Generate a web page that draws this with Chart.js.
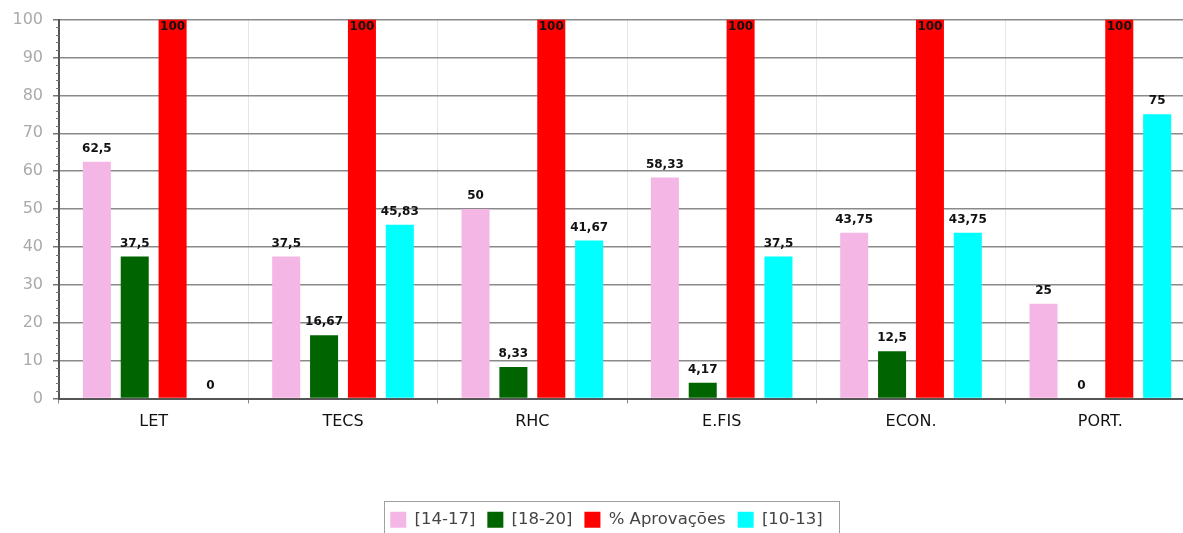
<!DOCTYPE html>
<html>
<head>
<meta charset="utf-8">
<script src="https://cdn.jsdelivr.net/npm/chart.js@4.4.1/dist/chart.umd.min.js"></script>
<style>
  html,body{margin:0;padding:0;background:#fff;overflow:hidden;}
  #wrap{width:1224px;height:538px;position:relative;}
</style>
</head>
<body>
<div id="wrap"><canvas id="c"></canvas></div>
<script>
const categories = ['LET', 'TECS', 'RHC', 'E.FIS', 'ECON.', 'PORT.'];
const seriesNames = ['[14-17]', '[18-20]', '% Aprovações', '[10-13]'];
const s1417 = [62.5, 37.5, 50, 58.33, 43.75, 25];
const s1820 = [37.5, 16.67, 8.33, 4.17, 12.5, 0];
const aprov = [100, 100, 100, 100, 100, 100];
const s1013 = [0, 45.83, 41.67, 37.5, 43.75, 75];
const yTicks = [0, 10, 20, 30, 40, 50, 60, 70, 80, 90, 100];

const colors = ['#F4B6E4', '#006400', '#FF0000', '#00FFFF'];
const seriesData = [s1417, s1820, aprov, s1013];

const FONT = '"DejaVu Sans", Verdana, sans-serif';

const labelPlugin = {
  id: 'vals',
  afterDatasetsDraw(chart) {
    const ctx = chart.ctx;
    const top = chart.chartArea.top;
    ctx.save();
    ctx.font = 'bold 12px ' + FONT;
    ctx.fillStyle = '#111';
    ctx.textAlign = 'center';
    ctx.textBaseline = 'middle';
    chart.data.datasets.forEach((ds, i) => {
      const meta = chart.getDatasetMeta(i);
      meta.data.forEach((bar, j) => {
        const v = ds.data[j];
        let y = bar.y - 13;
        if (y < top + 7) y = top + 7;
        ctx.fillText(String(v).replace('.', ','), bar.x, y);
      });
    });
    ctx.restore();
  }
};

const decoPlugin = {
  id: 'deco',
  beforeDatasetsDraw(chart) {
    const ctx = chart.ctx;
    const ys = chart.scales.y;
    const a = chart.chartArea;
    ctx.save();
    ctx.strokeStyle = '#777';
    ctx.lineWidth = 1;
    for (let v = 0; v <= 100; v += 2) {
      if (v % 10 === 0) continue;
      const y = Math.round(ys.getPixelForValue(v)) + 0.5;
      ctx.beginPath();
      ctx.moveTo(a.left - 3, y);
      ctx.lineTo(a.left, y);
      ctx.stroke();
    }
    ctx.restore();
  },
  afterDraw(chart) {
    const lg = chart.legend;
    if (!lg || !lg.legendHitBoxes || !lg.legendHitBoxes.length) return;
    const hb = lg.legendHitBoxes;
    let l = Infinity, r = -Infinity, cy = 0;
    hb.forEach(h => { l = Math.min(l, h.left); r = Math.max(r, h.left + h.width); cy = h.top + h.height / 2; });
    const ctx = chart.ctx;
    ctx.save();
    ctx.strokeStyle = '#a0a0a0';
    ctx.lineWidth = 1;
    ctx.strokeRect(Math.round(l - 6) + 0.5, Math.round(cy - 19) + 0.5, Math.round(r - l + 23), 60);
    ctx.restore();
  }
};

new Chart(document.getElementById('c'), {
  type: 'bar',
  data: {
    labels: categories,
    datasets: seriesNames.map((n, i) => ({
      label: n,
      data: seriesData[i],
      backgroundColor: colors[i],
      borderWidth: 0,
      barPercentage: 0.74,
      categoryPercentage: 0.8
    }))
  },
  options: {
    responsive: true,
    maintainAspectRatio: false,
    animation: false,
    layout: { padding: { top: 10, right: 29, left: 18, bottom: 0 } },
    plugins: {
      legend: {
        position: 'bottom',
        labels: {
          font: { family: FONT, size: 16.5 },
          color: '#444',
          boxWidth: 16,
          boxHeight: 16,
          padding: 12
        }
      },
      tooltip: { enabled: false }
    },
    scales: {
      x: {
        grid: { display: true, offset: true, color: '#e6e6e6', lineWidth: 1, tickLength: 5, tickColor: '#888', drawOnChartArea: true },
        border: { color: '#555', width: 2 },
        ticks: { font: { family: FONT, size: 16 }, color: '#111', padding: 9 },
        afterFit(s) { s.height = 101; }
      },
      y: {
        min: 0, max: 100,
        afterBuildTicks(s) { s.ticks = yTicks.map(v => ({ value: v })); },
        grid: { color: '#8a8a8a', lineWidth: 1.5, tickLength: 6, tickColor: '#777' },
        border: { color: '#555', width: 2 },
        ticks: { font: { family: FONT, size: 16 }, color: '#aaa', padding: 10 },
        afterFit(s) { s.width = 41; s._computeLabelArea = function () { return undefined; }; }
      }
    }
  },
  plugins: [labelPlugin, decoPlugin]
});
</script>
</body>
</html>
